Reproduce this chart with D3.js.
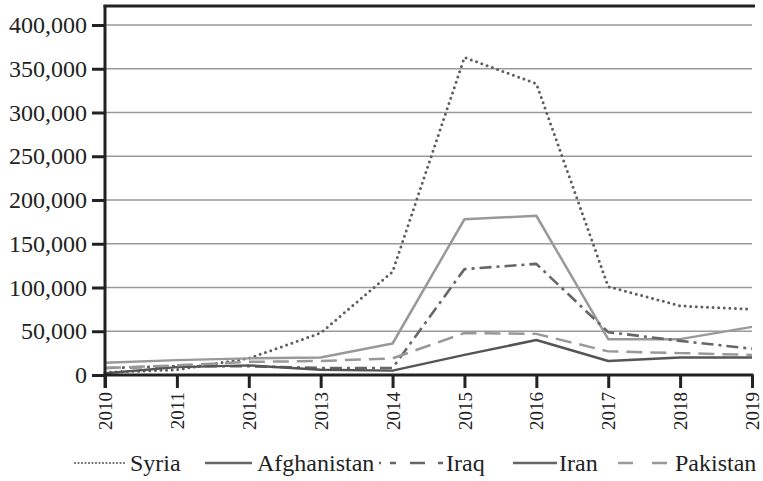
<!DOCTYPE html>
<html><head><meta charset="utf-8">
<script src="https://cdn.jsdelivr.net/npm/d3@7"></script>
<style>body{margin:0;background:#fff}svg{display:block}</style>
</head><body>
<script>
const years = [2010,2011,2012,2013,2014,2015,2016,2017,2018,2019];
const syria       = [3000, 6000, 19000, 48000, 118000, 363000, 333000, 101000, 79000, 75000];
const afghanistan = [14000, 17000, 19000, 20000, 36000, 178000, 182000, 41000, 41000, 55000];
const iraq        = [8000, 10000, 10000, 8000, 8000, 121000, 127000, 49000, 39000, 30000];
const iran        = [2000, 9000, 11000, 6000, 5000, 23000, 40000, 16000, 20000, 20000];
const pakistan    = [8000, 11000, 15000, 16000, 19000, 48000, 47000, 27000, 25000, 23000];
const yTicks = [0,50000,100000,150000,200000,250000,300000,350000,400000];
const seriesNames = ["Syria","Afghanistan","Iraq","Iran","Pakistan"];
const seriesValues = [syria, afghanistan, iraq, iran, pakistan];

const styles = {
  Syria:       {color:"#5e5e5e", width:3, dash:"0 5.6", cap:"round", legendColor:"#666", legendDash:"0 3.5", legendWidth:2.2},
  Afghanistan: {color:"#999", width:2.5, dash:null, cap:"butt", legendColor:"#666", legendDash:null, legendWidth:2.5},
  Iraq:        {color:"#666", width:2.6, dash:"12 5 3 5", cap:"butt", legendColor:"#666", legendDash:"2 9 6 14 15 13 5 20", legendWidth:2.5},
  Iran:        {color:"#555", width:2.5, dash:null, cap:"butt", legendColor:"#666", legendDash:null, legendWidth:2.5},
  Pakistan:    {color:"#999", width:2.5, dash:"16 8", cap:"butt", legendColor:"#999", legendDash:"15 19", legendWidth:2.5}
};

const W = 763, H = 481;
const svg = d3.select("body").append("svg").attr("width",W).attr("height",H);
const font = "'Liberation Serif','Times New Roman',serif";

const x = d3.scaleLinear().domain([2010,2019]).range([105,752]);
const y = d3.scaleLinear().domain([0,400000]).range([375,25]);

// grid
svg.append("g").selectAll("line").data(yTicks.filter(d=>d>0)).join("line")
  .attr("x1",105).attr("x2",752).attr("y1",d=>y(d)).attr("y2",d=>y(d))
  .attr("stroke","#9a9a9a").attr("stroke-width",1.5);

// lines
const line = d3.line().x((d,i)=>x(years[i])).y(d=>y(d));
seriesNames.forEach((n,k)=>{
  const s = styles[n];
  svg.append("path").datum(seriesValues[k]).attr("d",line)
    .attr("fill","none").attr("stroke",s.color).attr("stroke-width",s.width)
    .attr("stroke-dasharray",s.dash).attr("stroke-linecap",s.cap).attr("stroke-linejoin","round");
});

// y axis
const yAxis = d3.axisLeft(y).tickValues(yTicks).tickSize(13).tickPadding(5)
  .tickFormat(d3.format(","));
const gy = svg.append("g").attr("transform","translate(105,0)").call(yAxis);
gy.select(".domain").remove();
gy.selectAll(".tick line").attr("stroke","#222").attr("stroke-width",3);
gy.selectAll(".tick text").attr("font-family",font).attr("font-size",24).attr("fill","#222");
svg.append("line").attr("x1",105).attr("x2",105).attr("y1",5).attr("y2",388)
  .attr("stroke","#222").attr("stroke-width",3);

// x axis
const xAxis = d3.axisBottom(x).tickValues(years).tickSize(13).tickPadding(4).tickFormat(d3.format("d"));
const gx = svg.append("g").attr("transform","translate(0,375)").call(xAxis);
gx.select(".domain").remove();
gx.selectAll(".tick line").attr("stroke","#222").attr("stroke-width",3);
gx.selectAll(".tick text").attr("font-family",font).attr("font-size",19).attr("fill","#222")
  .attr("transform","rotate(-90)").attr("text-anchor","end").attr("dy","0.35em")
  .attr("x",-17).attr("y",0);
svg.append("line").attr("x1",103.5).attr("x2",753.5).attr("y1",375).attr("y2",375)
  .attr("stroke","#222").attr("stroke-width",3);
// top border
svg.append("line").attr("x1",103.5).attr("x2",755).attr("y1",6).attr("y2",6)
  .attr("stroke","#222").attr("stroke-width",3);

// legend
const legendPos = [
  {name:"Syria", x1:75, x2:127, tx:130},
  {name:"Afghanistan", x1:205, x2:252, tx:257},
  {name:"Iraq", x1:379, x2:444, tx:446},
  {name:"Iran", x1:513, x2:557, tx:559},
  {name:"Pakistan", x1:618, x2:667, tx:675}
];
const lg = svg.append("g");
legendPos.forEach(p=>{
  const s = styles[p.name];
  lg.append("line").attr("x1",p.x1).attr("x2",p.x2).attr("y1",463).attr("y2",463)
    .attr("stroke",s.legendColor).attr("stroke-width",s.legendWidth)
    .attr("stroke-dasharray",s.legendDash).attr("stroke-linecap",s.cap);
  lg.append("text").attr("x",p.tx).attr("y",471).text(p.name)
    .attr("font-family",font).attr("font-size",24).attr("fill","#222");
});
</script>
</body></html>
